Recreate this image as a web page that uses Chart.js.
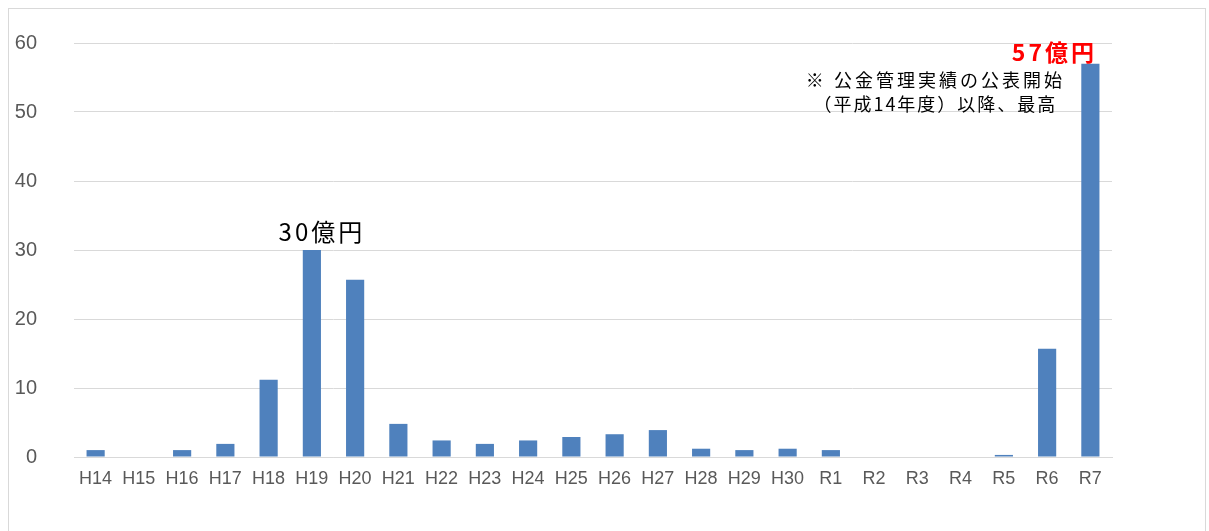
<!DOCTYPE html>
<html>
<head>
<meta charset="utf-8">
<script src="https://cdn.jsdelivr.net/npm/chart.js@4"></script>
<style>
  html, body { margin: 0; padding: 0; background: #fff; }
  #wrap { position: relative; width: 1209px; height: 531px; }
  #frame { position: absolute; left: 8px; top: 8px; width: 1198px; height: 540px;
           border: 1px solid #d9d9d9; box-sizing: border-box; pointer-events: none; }
</style>
</head>
<body>
<div id="wrap">
  <canvas id="chart" width="1209" height="531"></canvas>
  <div id="frame"></div>
</div>
<script>
const years = ['H14', 'H15', 'H16', 'H17', 'H18', 'H19', 'H20', 'H21', 'H22', 'H23', 'H24', 'H25',
               'H26', 'H27', 'H28', 'H29', 'H30', 'R1', 'R2', 'R3', 'R4', 'R5', 'R6', 'R7'];
const amounts = [1.0, 0, 1.0, 1.9, 11.2, 30, 25.7, 4.8, 2.4, 1.9, 2.4, 2.9,
                 3.3, 3.9, 1.2, 1.0, 1.2, 1.0, 0, 0, 0, 0.3, 15.7, 57];
const yTicks = [0, 10, 20, 30, 40, 50, 60];

// callouts: index into years, offsets from the top of that bar
const callouts = [
  { i: 5, text: '30億円', color: '#000', font: '24px "Noto Sans CJK JP"', spacing: '3px', dx: 10, dy: -18 },
  { i: 23, text: '57億円', color: '#ff0000', font: 'bold 23px "Noto Sans CJK JP"', spacing: '3px', dx: -36, dy: -11 },
  { i: 23, text: '※ 公金管理実績の公表開始', color: '#000', font: '18px "Noto Sans CJK JP"', spacing: '3px', dx: -155, dy: 16 },
  { i: 23, text: '（平成14年度）以降、最高', color: '#000', font: '18px "Noto Sans CJK JP"', spacing: '2px', dx: -155, dy: 40 }
];

const calloutPlugin = {
  id: 'callouts',
  afterDatasetsDraw(chart) {
    const ctx = chart.ctx;
    const x = chart.scales.x, y = chart.scales.y;
    ctx.save();
    ctx.textAlign = 'center';
    ctx.textBaseline = 'middle';
    callouts.forEach(c => {
      ctx.font = c.font;
      ctx.fillStyle = c.color;
      ctx.letterSpacing = c.spacing;
      ctx.fillText(c.text, x.getPixelForValue(c.i) + c.dx, y.getPixelForValue(amounts[c.i]) + c.dy);
    });
    ctx.restore();
  }
};

new Chart(document.getElementById('chart'), {
  type: 'bar',
  data: {
    labels: years,
    datasets: [{
      data: amounts,
      backgroundColor: '#4f81bd',
      borderWidth: 0,
      barPercentage: 0.42,
      categoryPercentage: 1
    }]
  },
  options: {
    responsive: false,
    animation: false,
    layout: { padding: { top: 43, right: 97, left: 0, bottom: 0 } },
    plugins: { legend: { display: false }, tooltip: { enabled: false } },
    scales: {
      x: {
        grid: { display: false },
        border: { color: '#d9d9d9', width: 1 },
        ticks: { color: '#595959', font: { family: 'Liberation Sans', size: 18 }, padding: 3, maxRotation: 0, autoSkip: false },
        afterFit(s) { s.height = 74; }
      },
      y: {
        min: 0,
        max: 60,
        afterBuildTicks(s) { s.ticks = yTicks.map(v => ({ value: v })); },
        // long invisible tick marks push the labels away from the plot
        grid: { color: '#d9d9d9', lineWidth: 1, drawTicks: true, tickLength: 32, tickColor: 'rgba(0,0,0,0)' },
        border: { display: false },
        ticks: { color: '#595959', font: { family: 'Liberation Sans', size: 20 }, padding: 5 },
        afterFit(s) { s.width = 74; }
      }
    }
  },
  plugins: [calloutPlugin]
});
</script>
</body>
</html>
